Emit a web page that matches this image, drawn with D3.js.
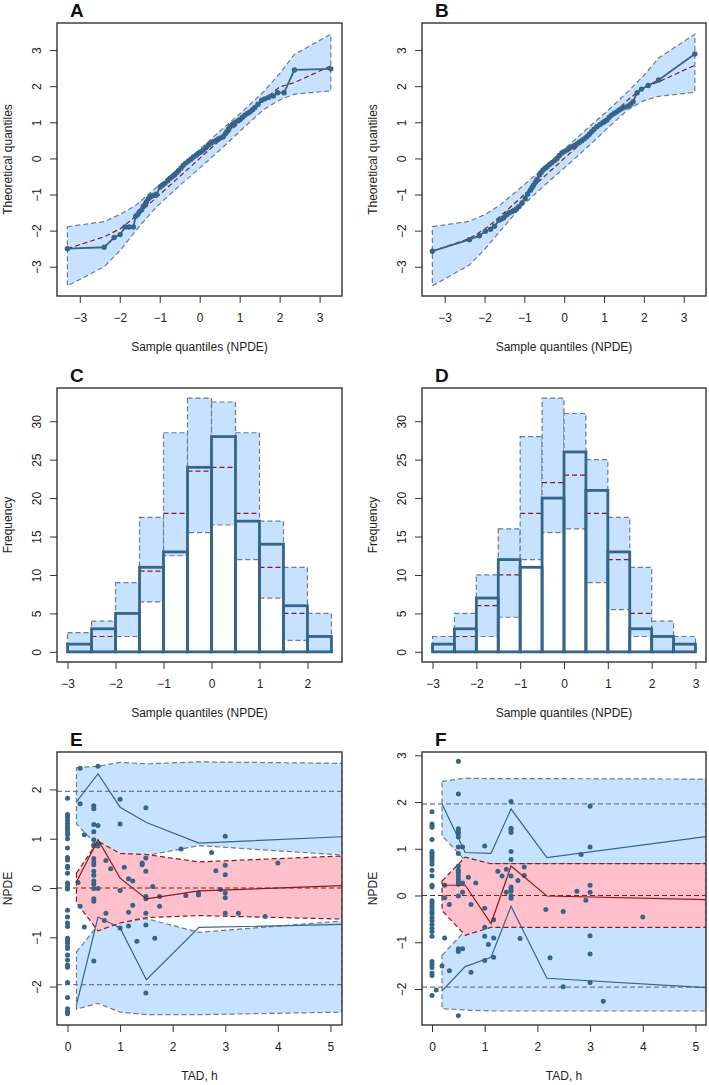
<!DOCTYPE html>
<html><head><meta charset="utf-8">
<script src="https://cdn.jsdelivr.net/npm/d3@7"></script>
<style>body{margin:0;background:#fff} text{font-family:"Liberation Sans",Arial,sans-serif}</style>
</head><body><svg id="c" width="709" height="1085"></svg>
<script>
// ---------------- DATA ----------------
// Panel A: QQ plot (sample quantile, theoretical quantile)
const qqA_x = [-3.31,-2.39,-2.14,-1.99,-1.87,-1.77,-1.66,-1.60,-1.55,-1.51,-1.45,-1.41,-1.36,-1.33,-1.28,-1.24,-1.20,-1.14,-1.08,-0.99,-0.93,-0.87,-0.80,-0.74,-0.68,-0.63,-0.58,-0.53,-0.47,-0.41,-0.35,-0.28,-0.22,-0.16,-0.09,-0.03,0.03,0.09,0.16,0.22,0.28,0.34,0.41,0.47,0.53,0.59,0.64,0.68,0.72,0.76,0.82,0.88,0.95,1.01,1.07,1.13,1.20,1.26,1.32,1.38,1.46,1.55,1.63,1.72,1.84,1.95,2.11,2.37,3.28];
const qqA_y = [-2.50,-2.46,-2.19,-2.11,-1.90,-1.90,-1.90,-1.60,-1.55,-1.48,-1.42,-1.32,-1.26,-1.20,-1.11,-1.07,-1.04,-1.02,-0.99,-0.79,-0.74,-0.69,-0.62,-0.55,-0.50,-0.46,-0.40,-0.34,-0.27,-0.19,-0.13,-0.07,-0.02,0.04,0.09,0.14,0.18,0.23,0.30,0.37,0.42,0.46,0.50,0.54,0.57,0.60,0.68,0.74,0.81,0.88,0.94,0.99,1.04,1.08,1.14,1.20,1.25,1.29,1.35,1.41,1.50,1.61,1.65,1.69,1.73,1.82,1.82,2.45,2.48];
const bandA_x   = [-3.31,-2.39,-1.99,-1.60,-1.10,-0.50,0.00,0.60,1.10,1.60,2.00,2.37,3.28];
const bandA_lo  = [-3.53,-3.00,-2.55,-2.00,-1.36,-0.75,-0.27,0.33,0.85,1.35,1.62,1.78,1.87];
const bandA_med = [-2.50,-2.17,-1.95,-1.60,-1.10,-0.50,0.00,0.60,1.10,1.62,1.98,2.10,2.56];
const bandA_hi  = [-1.89,-1.75,-1.55,-1.30,-0.82,-0.25,0.25,0.85,1.33,1.85,2.35,2.88,3.44];

// Panel B
const qqB_x = [-3.31,-2.38,-2.13,-1.98,-1.85,-1.75,-1.64,-1.58,-1.52,-1.45,-1.39,-1.33,-1.27,-1.20,-1.14,-1.06,-0.98,-0.92,-0.85,-0.81,-0.77,-0.72,-0.68,-0.62,-0.58,-0.53,-0.48,-0.43,-0.37,-0.31,-0.24,-0.18,-0.12,-0.06,0.00,0.07,0.13,0.19,0.26,0.32,0.38,0.44,0.50,0.57,0.63,0.69,0.75,0.82,0.90,0.97,1.02,1.07,1.13,1.19,1.26,1.32,1.38,1.44,1.52,1.61,1.67,1.73,1.83,1.94,2.11,2.37,3.28];
const qqB_y = [-2.57,-2.25,-2.14,-2.02,-1.96,-1.88,-1.71,-1.68,-1.64,-1.57,-1.51,-1.48,-1.45,-1.40,-1.34,-1.23,-1.11,-0.99,-0.88,-0.81,-0.74,-0.66,-0.58,-0.46,-0.39,-0.32,-0.27,-0.23,-0.17,-0.12,-0.06,0.00,0.08,0.15,0.19,0.23,0.28,0.32,0.36,0.40,0.45,0.49,0.54,0.60,0.67,0.74,0.81,0.88,0.94,0.99,1.03,1.06,1.14,1.20,1.25,1.29,1.34,1.38,1.42,1.45,1.50,1.57,1.82,1.92,2.02,2.17,2.89];
const bandB_x   = [-3.31,-2.38,-1.98,-1.60,-1.10,-0.50,0.00,0.60,1.10,1.60,2.00,2.37,3.28];
const bandB_lo  = [-3.53,-2.95,-2.50,-2.00,-1.36,-0.75,-0.27,0.33,0.85,1.35,1.60,1.72,1.83];
const bandB_med = [-2.57,-2.22,-1.95,-1.60,-1.10,-0.50,0.00,0.60,1.10,1.62,1.98,2.12,2.58];
const bandB_hi  = [-1.89,-1.74,-1.55,-1.28,-0.82,-0.25,0.25,0.85,1.33,1.85,2.30,2.78,3.44];

// Panel C: histogram
const histC_breaks = [-3,-2.5,-2,-1.5,-1,-0.5,0,0.5,1,1.5,2,2.5];
const histC_obs = [1,3,5,11,13,24,28,17,14,6,2];
const histC_lo  = [0,0,2,6.5,12.5,15.5,16.5,12,7,1.5,0];
const histC_med = [1,2,5,10.5,18,23.5,24,18,11,5,2];
const histC_hi  = [2.5,4,9,17.5,28.5,33,32.5,28.5,17,11,5];

// Panel D: histogram
const histD_breaks = [-3,-2.5,-2,-1.5,-1,-0.5,0,0.5,1,1.5,2,2.5,3];
const histD_obs = [1,3,7,12,11,20,26,21,13,3,2,1];
const histD_lo  = [0,0,2,4.5,12,15.5,16,9,5.5,2,0,0];
const histD_med = [1,2,6,10,18,22,23,18,12,5,2,1];
const histD_hi  = [2,5,10,16,28,33,31,25,17.5,11,4,2];

// Panel E: NPDE vs TAD
const E_tad = [0,0,0,0,0,0,0,0,0,0,0,0,0,0,0,0,0,0,0,0,0,0,0,0,0,0,0,0,0,0,0,0,0,0,0,0,0,0,
  0.24,0.24,0.24,0.20,0.32,0.32,
  0.5,0.5,0.5,0.5,0.5,0.5,0.5,0.5,0.5,0.5,0.5,0.5,0.5,0.5,0.5,0.5,0.5,0.5,
  0.58,0.58,0.58,0.58,0.58,0.70,0.73,0.73,0.82,
  1.0,1.0,1.0,1.0,1.08,1.16,1.16,1.16,1.24,1.24,1.32,1.42,1.42,
  1.49,1.49,1.49,1.49,1.49,1.49,1.49,1.49,
  1.62,1.66,1.75,1.75,2.16,2.25,2.49,2.49,2.74,2.82,2.91,3.0,3.0,3.0,3.0,3.0,3.0,3.25,3.76,4.0];
const E_npde = [1.82,1.49,1.44,1.37,1.31,1.25,1.19,1.13,1.08,1.00,0.81,0.62,0.57,0.44,0.41,0.30,0.10,0.07,0.01,-0.02,-0.45,-0.59,-0.71,-0.78,-1.02,-1.07,-1.12,-1.19,-1.23,-1.36,-1.46,-1.56,-1.61,-1.92,-2.22,-2.45,-2.51,-2.55,
  2.43,1.71,-0.37,0.11,1.08,-0.79,
  1.67,1.61,1.29,1.14,0.98,0.88,0.85,0.60,0.53,0.47,0.34,0.26,0.14,0.08,-0.01,-0.22,-0.27,-1.48,
  2.47,1.27,0.89,0.85,-0.01,-0.66,0.56,-0.51,0.39,
  1.80,1.30,-0.05,-0.81,0.42,0.19,-0.49,-0.77,0.14,-0.35,-1.08,0.51,0.47,
  1.63,0.61,0.34,-0.17,-0.22,-0.51,-0.75,-2.13,
  0.03,-1.02,-0.17,-0.37,0.79,-0.15,-0.10,-0.14,0.72,0.35,-0.03,1.05,0.46,0.27,-0.10,-0.20,-0.51,-0.51,-0.58,0.51];
const E_bin_x  = [0.17,0.58,1.0,1.5,2.5,5.22];
const E_up_lo  = [1.30,0.85,0.70,0.66,0.86,0.67];
const E_up_hi  = [2.44,2.47,2.55,2.52,2.56,2.53];
const E_md_lo  = [-0.30,-0.87,-0.71,-0.60,-0.56,-0.63];
const E_md_hi  = [0.30,0.95,0.70,0.68,0.53,0.65];
const E_lw_lo  = [-2.46,-2.34,-2.52,-2.57,-2.57,-2.52];
const E_lw_hi  = [-1.30,-0.75,-0.70,-0.62,-0.90,-0.67];
const E_obs_hi  = [1.75,2.32,1.64,1.33,0.91,1.04];
const E_obs_med = [0.12,0.98,0.20,-0.22,-0.06,0.05];
const E_obs_lo  = [-2.37,-0.59,-0.81,-1.86,-0.80,-0.74];

// Panel F
const F_tad = [0,0,0,0,0,0,0,0,0,0,0,0,0,0,0,0,0,0,0,0,0,0,0,0,0,0,0,0,0,0,0,0,0,
  0.08,0.19,0.24,0.24,0.24,0.33,0.33,
  0.5,0.5,0.5,0.5,0.5,0.5,0.5,0.5,0.5,0.5,0.5,0.5,0.5,0.5,0.5,0.5,0.5,0.5,0.5,
  0.58,0.58,0.58,0.58,0.69,0.74,0.74,0.83,
  1.0,1.0,1.0,1.0,1.0,1.07,1.17,1.17,1.17,1.25,1.33,1.41,1.41,
  1.5,1.5,1.5,1.5,1.5,1.5,1.5,1.5,1.5,1.5,1.5,1.5,
  1.63,1.67,1.75,1.75,2.16,2.24,2.49,2.49,2.75,2.83,2.92,3.0,3.0,3.0,3.0,3.0,3.0,3.0,3.25,4.0];
const F_npde = [1.79,1.53,1.49,1.46,1.20,0.94,0.90,0.85,0.80,0.74,0.67,0.54,0.42,0.22,0.18,-0.11,-0.16,-0.22,-0.27,-0.34,-0.39,-0.47,-0.54,-0.62,-0.70,-0.77,-0.87,-1.41,-1.47,-1.54,-1.66,-1.71,-2.14,
  -2.02,-1.51,0.22,-0.05,-0.91,-0.19,-1.61,
  2.87,2.17,1.43,1.37,1.33,1.25,1.04,0.90,0.63,0.54,0.49,0.42,0.34,0.29,0.24,-0.01,-1.14,-1.20,-2.57,
  1.04,0.27,0.07,-1.14,0.39,-0.19,-1.64,0.27,
  1.06,-0.27,-0.68,-0.87,-1.39,-1.05,-0.52,-0.91,-1.32,0.52,0.42,0.07,0.56,
  2.01,1.44,1.40,1.35,0.94,0.77,0.42,0.18,0.13,0.09,-0.01,-0.06,
  0.32,-0.92,0.61,0.43,-0.30,-1.33,-0.34,-1.95,0.09,0.88,-0.10,1.91,1.04,0.22,0.07,-0.86,-1.25,-1.86,-2.26,-0.46];
const F_bin_x  = [0.19,0.63,1.12,1.5,2.18,5.2];
const F_up_lo  = [1.28,0.75,0.68,0.68,0.68,0.68];
const F_up_hi  = [2.44,2.51,2.50,2.50,2.50,2.49];
const F_md_lo  = [-0.32,-0.85,-0.68,-0.68,-0.68,-0.68];
const F_md_hi  = [0.31,0.82,0.68,0.68,0.68,0.68];
const F_lw_lo  = [-2.42,-2.45,-2.47,-2.47,-2.47,-2.47];
const F_lw_hi  = [-1.28,-0.75,-0.68,-0.68,-0.68,-0.68];
const F_obs_hi  = [1.96,0.92,0.90,1.85,0.81,1.26];
const F_obs_med = [0.22,0.22,-0.60,0.63,-0.01,-0.09];
const F_obs_lo  = [-2.04,-1.52,-1.32,-0.23,-1.77,-1.97];

const qqTicks = [-3,-2,-1,0,1,2,3];
const histCTicks = [-3,-2,-1,0,1,2];
const histDTicks = [-3,-2,-1,0,1,2,3];
const freqTicks = [0,5,10,15,20,25,30];
const tadTicks = [0,1,2,3,4,5];
const npdeETicks = [-2,-1,0,1,2];
const npdeFTicks = [-2,-1,0,1,2,3];

// ---------------- DRAWING ----------------
const svg = d3.select("#c");
const COL = [{l:57,r:342},{l:422,r:706}];
const ROW = [{t:23,b:296},{t:388,b:662},{t:752,b:1025}];
const BLUE_FILL="#C6E2FF", PINK="#FFC0CB", DARK="#36648B", RED="#8B1A1A", GRAY="#6C7B8B", AX="#333";
const fmt = d3.format("");

function panel(ci, ri, xdom, ydom, xt, yt, letter, xlab, ylab){
  const c=COL[ci], r=ROW[ri];
  const x=d3.scaleLinear().domain(xdom).range([c.l,c.r]);
  const y=d3.scaleLinear().domain(ydom).range([r.b,r.t]);
  const g=svg.append("g");
  const id="clip"+letter;
  svg.append("clipPath").attr("id",id).append("rect")
    .attr("x",c.l).attr("y",r.t).attr("width",c.r-c.l).attr("height",r.b-r.t);
  const plot=g.append("g").attr("clip-path",`url(#${id})`);
  const xa=g.append("g").attr("transform",`translate(0,${r.b})`)
    .call(d3.axisBottom(x).tickValues(xt).tickSize(7).tickFormat(fmt));
  xa.select(".domain").remove();
  xa.selectAll("line").attr("stroke",AX).attr("stroke-width",1);
  xa.selectAll("text").attr("y",26).attr("dy",0).attr("font-size",12).attr("fill","#222")
    .style("font-family","'Liberation Sans',Arial,sans-serif");
  const ya=g.append("g").attr("transform",`translate(${c.l},0)`)
    .call(d3.axisLeft(y).tickValues(yt).tickSize(7).tickFormat(fmt));
  ya.select(".domain").remove();
  ya.selectAll("line").attr("stroke",AX).attr("stroke-width",1);
  ya.selectAll("text").attr("x",0).attr("dy",0).attr("font-size",12).attr("fill","#222")
    .attr("text-anchor","middle").attr("dominant-baseline","central")
    .attr("transform","translate(-20,0) rotate(-90)")
    .style("font-family","'Liberation Sans',Arial,sans-serif");
  g.append("text").attr("x",(c.l+c.r)/2).attr("y",r.b+51).attr("text-anchor","middle")
    .attr("dominant-baseline","central").attr("font-size",12).attr("fill","#222").text(xlab);
  g.append("text").attr("transform",`translate(${c.l-49},${(r.t+r.b)/2}) rotate(-90)`)
    .attr("text-anchor","middle").attr("dominant-baseline","central")
    .attr("font-size",12).attr("fill","#222").text(ylab);
  g.append("text").attr("x",c.l+13).attr("y",r.t-6).attr("font-size",19).attr("font-weight","bold")
    .attr("fill","#111").text(letter);
  const finish=()=>g.append("rect").attr("x",c.l).attr("y",r.t).attr("width",c.r-c.l)
    .attr("height",r.b-r.t).attr("fill","none").attr("stroke",AX).attr("stroke-width",1.4);
  return {x,y,plot,finish,c,r};
}

function qq(ci, letter, px, py, bx, blo, bmed, bhi){
  const P=panel(ci,0,[-3.57,3.56],[-3.81,3.75],qqTicks,qqTicks,letter,"Sample quantiles (NPDE)","Theoretical quantiles");
  const area=d3.area().x((d,i)=>P.x(bx[i])).y0((d,i)=>P.y(blo[i])).y1((d,i)=>P.y(bhi[i]));
  P.plot.append("path").datum(bx).attr("d",area).attr("fill",BLUE_FILL)
    .attr("stroke",GRAY).attr("stroke-width",1.2).attr("stroke-dasharray","5,3");
  const lm=d3.line().x((d,i)=>P.x(bx[i])).y((d,i)=>P.y(bmed[i]));
  P.plot.append("path").datum(bx).attr("d",lm).attr("fill","none").attr("stroke",RED)
    .attr("stroke-width",1.2).attr("stroke-dasharray","5,3");
  const lo=d3.line().x((d,i)=>P.x(px[i])).y((d,i)=>P.y(py[i]));
  P.plot.append("path").datum(px).attr("d",lo).attr("fill","none").attr("stroke",DARK).attr("stroke-width",1.8);
  P.plot.selectAll("circle.pt").data(px).join("circle").attr("class","pt")
    .attr("cx",d=>P.x(d)).attr("cy",(d,i)=>P.y(py[i])).attr("r",2.7).attr("fill",DARK);
  P.finish();
}

function hist(ci, letter, br, obs, lo, med, hi, xdom, xt){
  const P=panel(ci,1,xdom,[-1.32,34.32],xt,freqTicks,letter,"Sample quantiles (NPDE)","Frequency");
  const idx=d3.range(obs.length);
  P.plot.selectAll("rect.pi").data(idx).join("rect").attr("class","pi")
    .attr("x",i=>P.x(br[i])).attr("width",i=>P.x(br[i+1])-P.x(br[i]))
    .attr("y",i=>P.y(hi[i])).attr("height",i=>P.y(lo[i])-P.y(hi[i]))
    .attr("fill",BLUE_FILL).attr("stroke",GRAY).attr("stroke-width",1.2).attr("stroke-dasharray","5,3");
  P.plot.selectAll("line.md").data(idx).join("line").attr("class","md")
    .attr("x1",i=>P.x(br[i])).attr("x2",i=>P.x(br[i+1]))
    .attr("y1",i=>P.y(med[i])).attr("y2",i=>P.y(med[i]))
    .attr("stroke",RED).attr("stroke-width",1.2).attr("stroke-dasharray","5,3");
  P.plot.selectAll("rect.ob").data(idx).join("rect").attr("class","ob")
    .attr("x",i=>P.x(br[i])).attr("width",i=>P.x(br[i+1])-P.x(br[i]))
    .attr("y",i=>P.y(obs[i])).attr("height",i=>P.y(0)-P.y(obs[i]))
    .attr("fill","none").attr("stroke",DARK).attr("stroke-width",2.8);
  P.finish();
}

function vpc(ci, letter, xdom, ydom, yt, bx, upLo, upHi, mdLo, mdHi, lwLo, lwHi, oHi, oMed, oLo, tx, ty){
  const P=panel(ci,2,xdom,ydom,tadTicks,yt,letter,"TAD, h","NPDE");
  const band=(a,b,fill,stroke)=>{
    const ar=d3.area().x((d,i)=>P.x(bx[i])).y0((d,i)=>P.y(a[i])).y1((d,i)=>P.y(b[i]));
    P.plot.append("path").datum(bx).attr("d",ar).attr("fill",fill)
      .attr("stroke",stroke).attr("stroke-width",1.2).attr("stroke-dasharray","5,3");
  };
  band(upLo,upHi,BLUE_FILL,GRAY);
  band(lwLo,lwHi,BLUE_FILL,GRAY);
  band(mdLo,mdHi,PINK,RED);
  [[-1.96,GRAY],[1.96,GRAY],[0,RED]].forEach(([v,col])=>{
    P.plot.append("line").attr("x1",P.x(xdom[0])).attr("x2",P.x(xdom[1]))
      .attr("y1",P.y(v)).attr("y2",P.y(v)).attr("stroke",col).attr("stroke-width",1.2)
      .attr("stroke-dasharray","5,3");
  });
  P.plot.selectAll("circle.pt").data(tx).join("circle").attr("class","pt")
    .attr("cx",d=>P.x(d)).attr("cy",(d,i)=>P.y(ty[i])).attr("r",2.5).attr("fill",DARK);
  const ln=(arr,col)=>{
    const l=d3.line().x((d,i)=>P.x(bx[i])).y((d,i)=>P.y(arr[i]));
    P.plot.append("path").datum(bx).attr("d",l).attr("fill","none").attr("stroke",col).attr("stroke-width",1.2);
  };
  ln(oHi,DARK); ln(oLo,DARK); ln(oMed,RED);
  P.finish();
}

qq(0,"A",qqA_x,qqA_y,bandA_x,bandA_lo,bandA_med,bandA_hi);
qq(1,"B",qqB_x,qqB_y,bandB_x,bandB_lo,bandB_med,bandB_hi);
hist(0,"C",histC_breaks,histC_obs,histC_lo,histC_med,histC_hi,[-3.22,2.72],histCTicks);
hist(1,"D",histD_breaks,histD_obs,histD_lo,histD_med,histD_hi,[-3.24,3.24],histDTicks);
vpc(0,"E",[-0.2,5.22],[-2.78,2.76],npdeETicks,E_bin_x,E_up_lo,E_up_hi,E_md_lo,E_md_hi,E_lw_lo,E_lw_hi,E_obs_hi,E_obs_med,E_obs_lo,E_tad,E_npde);
vpc(1,"F",[-0.19,5.2],[-2.77,3.07],npdeFTicks,F_bin_x,F_up_lo,F_up_hi,F_md_lo,F_md_hi,F_lw_lo,F_lw_hi,F_obs_hi,F_obs_med,F_obs_lo,F_tad,F_npde);
</script></body></html>
